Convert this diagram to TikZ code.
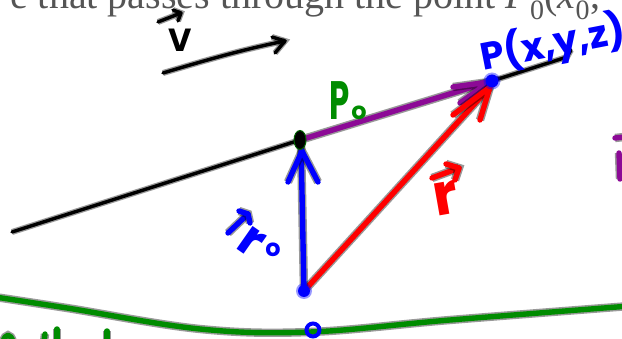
\documentclass[tikz,border=0pt]{standalone}
\usepackage{fontspec}
\setmainfont{Liberation Serif}
\newfontfamily\hand{Poppins}
\definecolor{inkblue}{RGB}{0,0,255}
\definecolor{inkred}{RGB}{255,0,0}
\definecolor{inkpurple}{RGB}{140,10,150}
\definecolor{inkgreen}{RGB}{0,140,0}
\definecolor{pagegray}{RGB}{85,85,85}
\tikzset{
  colink/.style={line width=5.4pt, line cap=round, line join=round,
    preaction={draw, line width=8.4pt, opacity=0.4}},
  blkink/.style={line width=3.4pt, line cap=round, line join=round,
    preaction={draw, line width=6pt, opacity=0.4}},
  handlabel/.style={inner sep=0pt},
}
\begin{document}
\begin{tikzpicture}[x=1pt,y=-1pt]
\useasboundingbox (0,0) rectangle (622,339);
\clip (0,0) rectangle (622,339);
\fill[white] (0,0) rectangle (622,339);

% page text, cut by the top edge
\node[anchor=base west, inner sep=0pt, text=pagegray,
      font=\fontsize{40}{40}\selectfont] (toptext) at (10,9)
  {e that passes through the point \textit{P}\textsubscript{0}(\textit{x}\textsubscript{0},};

% points
\coordinate (A) at (12,232);
\coordinate (P0) at (300,140);
\coordinate (P) at (492,81);
\coordinate (Lend) at (567,57);
\coordinate (Lhook) at (571,50);
\coordinate (O) at (304,291);
\coordinate (Vs) at (163,73);
\coordinate (Ve) at (285,41);
\coordinate (G) at (313,330);

% black line through P0 and P
\draw[blkink, black] (A) -- (P0);
\draw[blkink, black] (P) -- (Lend) -- (Lhook);

% vector v
\draw[blkink, black] (Vs) .. controls (200,62) and (240,50) .. (Ve);
\draw[blkink, black] (272,37) -- (Ve) -- (275,53);
\node[handlabel, text=black, font=\hand\bfseries\fontsize{32}{32}\selectfont] (vlab) at (180,40) {V};
\draw[blkink, black] (158,22) -- (181,13);
\draw[blkink, black] (173,10) -- (181,13) -- (178,21);

% purple vector P0 -> P
\draw[colink, inkpurple] (P0) -- (P);
\draw[colink, inkpurple] (453,87) -- (489,82) -- (460,103);
\node[handlabel, text=inkgreen, font=\hand\bfseries\fontsize{54}{54}\selectfont] (P0lab) at (340,101)
  {\scalebox{0.6}[1]{P}};
\node[handlabel, text=inkgreen, font=\hand\bfseries\fontsize{24}{24}\selectfont] (P0sub) at (359,113) {o};

% red vector r
\draw[colink, inkred] (O) -- (490,87);
\draw[colink, inkred] (453,115) -- (490,87) -- (480,120);
\node[handlabel, text=inkred, rotate=10, font=\hand\bfseries\fontsize{58}{58}\selectfont] (rlab) at (446,198) {r};
\draw[colink, inkred] (432,178) -- (459,168);
\draw[colink, inkred] (446,164) -- (459,168) -- (455,180);

% blue vector r0
\draw[colink, inkblue] (O) -- (301,143);
\draw[colink, inkblue] (288,182) -- (302,151) -- (318,182);
\node[handlabel, text=inkblue, rotate=-35, font=\hand\bfseries\fontsize{50}{50}\selectfont] (r0lab) at (251,242) {r};
\node[handlabel, text=inkblue, font=\hand\bfseries\fontsize{24}{24}\selectfont] (r0sub) at (273,250) {o};
\draw[colink, inkblue] (228,233) -- (248,214);
\draw[colink, inkblue] (239,211) -- (248,214) -- (250,223);

% P label
\node[handlabel, text=inkblue, rotate=11, font=\hand\bfseries\fontsize{38}{38}\selectfont] (Plab) at (553,44) {P(x,y,z)};

% dots
\fill[black] (P0) ellipse (6 and 9.5);
\draw[inkgreen!70!black, line width=1pt] (P0) ellipse (6 and 9.5);
\fill[inkblue, opacity=0.4] (P) circle (8.5);
\fill[inkblue] (P) circle (6.5);
\fill[inkblue, opacity=0.4] (O) circle (8);
\fill[inkblue] (O) circle (6);

% green curve
\draw[colink, inkgreen] plot[smooth, tension=0.6] coordinates
  {(-5,297) (67,308) (200,329) (310,332) (450,320) (630,306)};
\draw[inkblue, line width=4pt] (G) circle (6.5);

% fragments cut by the edges
\draw[colink, inkgreen] (3,342) .. controls (5,333) and (11,333) .. (13,342);
\draw[colink, inkgreen] (44,342) -- (45,334);
\draw[colink, inkgreen] (57,342) -- (57,329);
\draw[colink, inkgreen] (107,342) -- (107,331);
\draw[colink, inkpurple] (615,138) -- (624,137);
\draw[colink, inkpurple] (619,153) -- (620,179);
\end{tikzpicture}
\end{document}
